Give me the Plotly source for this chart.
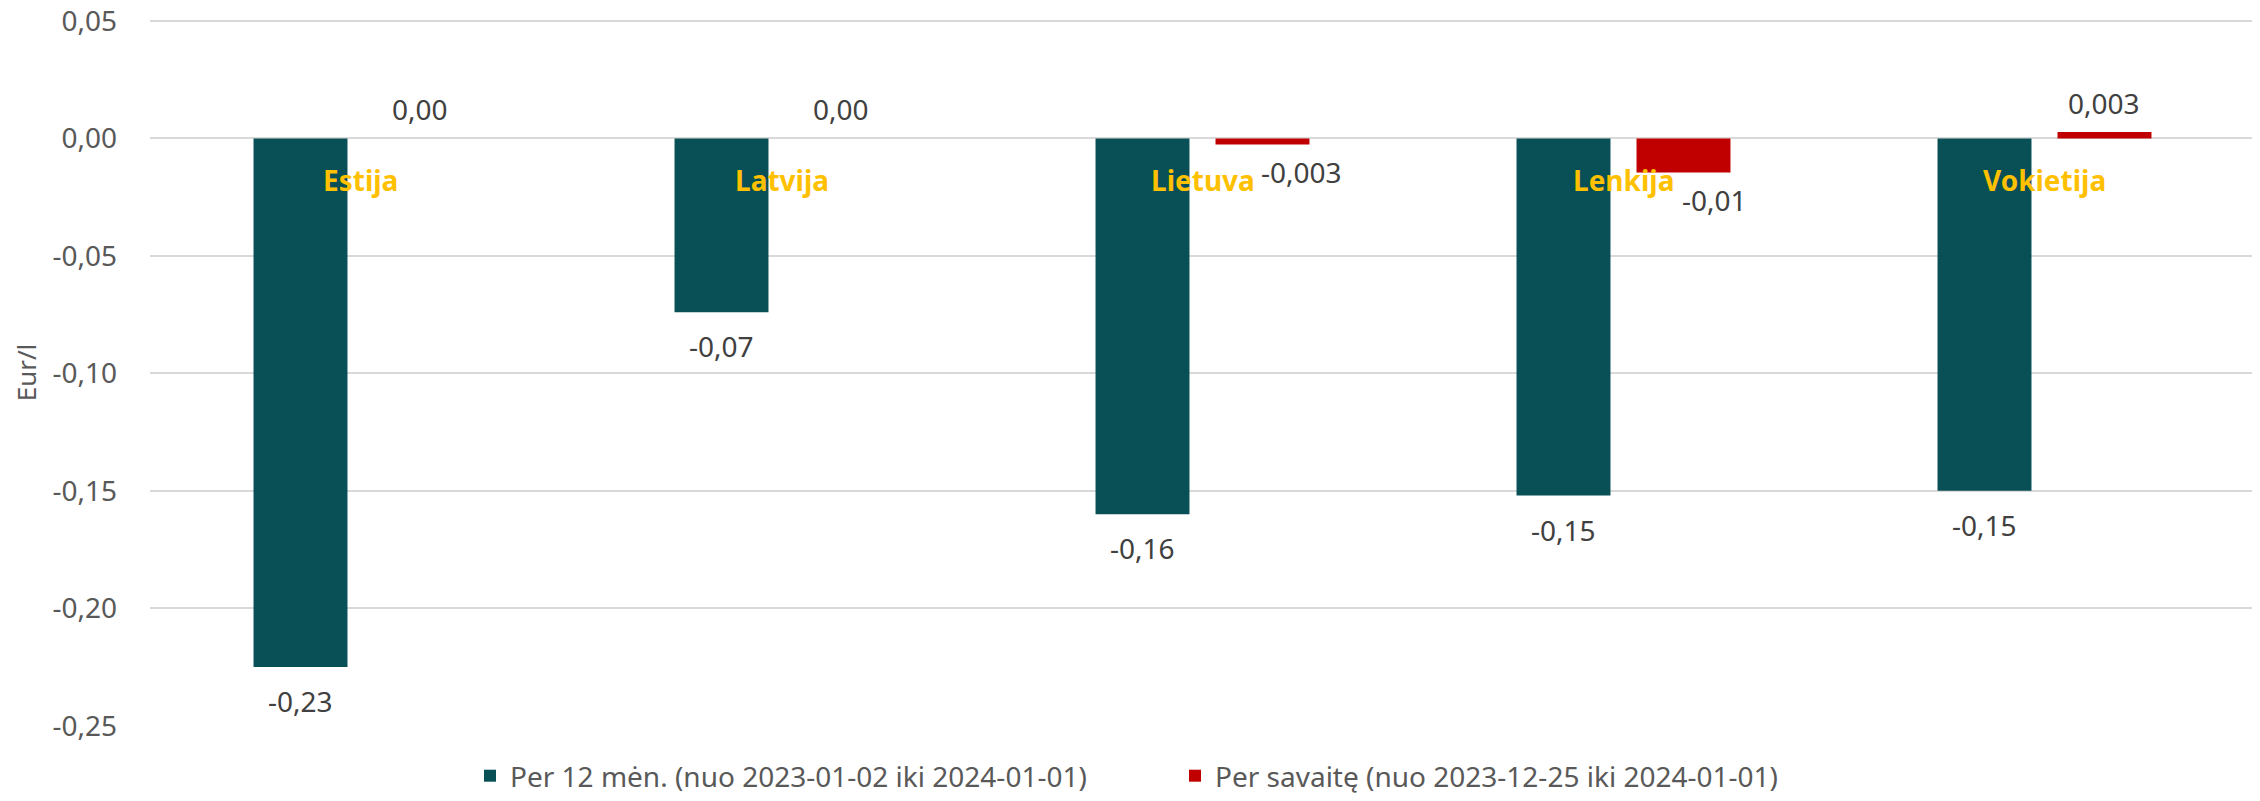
import plotly.graph_objects as go

categories = ["Estija", "Latvija", "Lietuva", "Lenkija", "Vokietija"]
series_names = ["Per 12 mėn. (nuo 2023-01-02 iki 2024-01-01)",
                "Per savaitę (nuo 2023-12-25 iki 2024-01-01)"]
values_12m = [-0.225, -0.074, -0.160, -0.152, -0.150]
values_week = [0.0, 0.0, -0.0026, -0.0145, 0.0027]
labels_12m = ["-0,23", "-0,07", "-0,16", "-0,15", "-0,15"]
labels_week = ["0,00", "0,00", "-0,003", "-0,01", "0,003"]
y_ticks = [0.05, 0.0, -0.05, -0.10, -0.15, -0.20, -0.25]
y_ticktext = ["0,05", "0,00", "-0,05", "-0,10", "-0,15", "-0,20", "-0,25"]

TEAL = "#094F56"
RED = "#C00000"
GOLD = "#FFC000"
FONT = "Noto Sans"

# page body has an 8px default margin; compensate
OFF = 8
W, H = 2260 - OFF, 801 - OFF
ML, MR, MT, MB = 150 - OFF, 5, 11, 75
cat_px = (W - ML - MR) / len(categories)
bargap = 0.43
slot = cat_px * (1 - bargap) / 2  # width of one series slot inside group

fig = go.Figure()
fig.add_trace(go.Bar(x=categories, y=values_12m, name=series_names[0],
                     marker=dict(color=TEAL, line=dict(width=0))))
fig.add_trace(go.Bar(x=categories, y=values_week, name=series_names[1],
                     marker=dict(color=RED, line=dict(width=0))))

annotations = []
# category labels
for c in categories:
    annotations.append(dict(x=c, y=0, xref="x", yref="y", text=c, showarrow=False,
                            yshift=-42, yanchor="middle",
                            font=dict(family=FONT, size=28, color=GOLD, weight="bold")))
# 12-month labels (below bars)
for c, v, t in zip(categories, values_12m, labels_12m):
    annotations.append(dict(x=c, y=v, xref="x", yref="y", text=t, showarrow=False,
                            xshift=-slot / 2, yshift=-34, yanchor="middle",
                            font=dict(family=FONT, size=28, color="#404040")))
# weekly labels
week_xshift_extra = [0, 0, 39, 31, 0]
for c, v, t, ex in zip(categories, values_week, labels_week, week_xshift_extra):
    above = v >= 0
    annotations.append(dict(x=c, y=v, xref="x", yref="y", text=t, showarrow=False,
                            xshift=slot / 2 + ex, yshift=(29 if above else -27),
                            yanchor="middle",
                            font=dict(family=FONT, size=28, color="#404040")))

fig.update_layout(
    width=W, height=H,
    margin=dict(l=ML, r=MR, t=MT, b=MB, autoexpand=False),
    paper_bgcolor="white", plot_bgcolor="white",
    barmode="group", bargap=bargap, bargroupgap=0.217,
    font=dict(family=FONT, size=28, color="#595959"),
    xaxis=dict(showticklabels=False, showgrid=False, zeroline=False, showline=False,
               ticks=""),
    yaxis=dict(range=[-0.2501, 0.05085], tickvals=y_ticks, ticktext=y_ticktext,
               showgrid=True, gridcolor="#D9D9D9", gridwidth=1.5,
               zeroline=True, zerolinecolor="#D9D9D9", zerolinewidth=1.5,
               showline=False, ticks="", ticklabelstandoff=32,
               ticklabeloverflow="allow",
               tickfont=dict(family=FONT, size=28, color="#595959"),
               title=dict(text="Eur/l", font=dict(family=FONT, size=26, color="#595959"),
                          standoff=8)),
    legend=dict(orientation="h", xref="container", yref="container",
                x=(1130 - OFF + 45) / W, xanchor="center", y=0.0, yanchor="bottom",
                font=dict(family=FONT, size=28, color="#595959"),
                itemwidth=30, entrywidth=660, traceorder="normal"),
    annotations=annotations,
    showlegend=True,
)

fig.write_html("out.html")
